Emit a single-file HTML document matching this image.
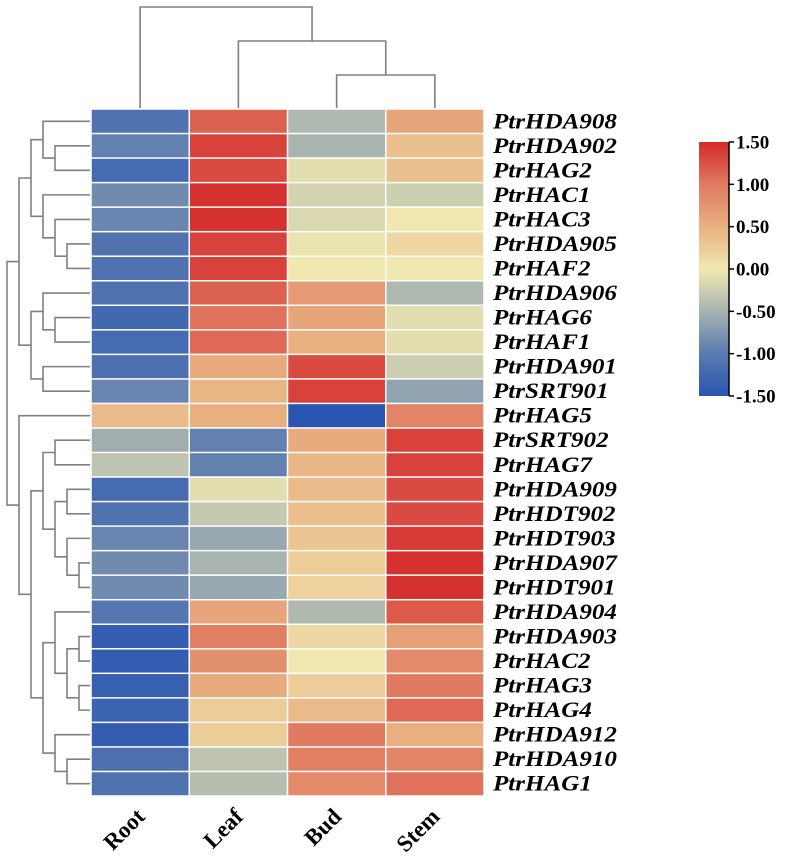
<!DOCTYPE html>
<html><head><meta charset="utf-8"><style>
html,body{margin:0;padding:0;background:#fff;}
svg{display:block;}
</style></head><body>
<svg id="chart" width="787" height="860" xmlns="http://www.w3.org/2000/svg">
<defs>
<linearGradient id="cbar" x1="0" y1="1" x2="0" y2="0">
<stop offset="0" stop-color="#2a55b0"/>
<stop offset="0.1667" stop-color="#5a7ab0"/>
<stop offset="0.3333" stop-color="#a8b4b0"/>
<stop offset="0.5" stop-color="#f0e8b0"/>
<stop offset="0.6667" stop-color="#e8b080"/>
<stop offset="0.8333" stop-color="#e07a60"/>
<stop offset="1" stop-color="#d42a2a"/>
</linearGradient>
</defs>
<g id="cells"></g>
<g id="rowdend"></g>
<g id="coldend"></g>
<g id="rowlabels"></g>
<g id="collabels"></g>
<g id="legend">
<rect x="699" y="142" width="30" height="254" fill="url(#cbar)"/>
</g>
</svg>
<script>
const genes = ["PtrHDA908","PtrHDA902","PtrHAG2","PtrHAC1","PtrHAC3","PtrHDA905","PtrHAF2","PtrHDA906","PtrHAG6","PtrHAF1","PtrHDA901","PtrSRT901","PtrHAG5","PtrSRT902","PtrHAG7","PtrHDA909","PtrHDT902","PtrHDT903","PtrHDA907","PtrHDT901","PtrHDA904","PtrHDA903","PtrHAC2","PtrHAG3","PtrHAG4","PtrHDA912","PtrHDA910","PtrHAG1"];
const tissues = ["Root","Leaf","Bud","Stem"];
const rootVals = [-1.1,-0.95,-1.2,-0.85,-0.9,-1.1,-1.1,-1.1,-1.25,-1.2,-1.15,-0.9,0.4,-0.55,-0.35,-1.2,-1.1,-0.9,-0.85,-0.85,-1.05,-1.4,-1.4,-1.35,-1.3,-1.4,-1.15,-1.1];
const leafVals = [1.15,1.35,1.3,1.45,1.45,1.35,1.35,1.15,1.05,1.1,0.55,0.45,0.5,-0.95,-0.95,-0.1,-0.3,-0.6,-0.5,-0.6,0.6,0.95,0.8,0.55,0.25,0.25,-0.35,-0.4];
const budVals = [-0.45,-0.5,-0.1,-0.2,-0.15,-0.05,0.0,0.7,0.6,0.5,1.3,1.35,-1.5,0.55,0.45,0.4,0.35,0.3,0.25,0.2,-0.45,0.15,0.0,0.25,0.4,1.0,0.95,0.85];
const stemVals = [0.6,0.35,0.35,-0.25,0.0,0.15,0.0,-0.45,-0.1,-0.1,-0.25,-0.65,0.9,1.35,1.35,1.3,1.3,1.4,1.45,1.45,1.2,0.65,0.85,1.0,1.1,0.5,0.9,1.05];
const legendTicks = [1.5,1.0,0.5,0.0,-0.5,-1.0,-1.5];
const legendLabels = ["1.50","1.00","0.50","0.00","-0.50","-1.00","-1.50"];

const NS="http://www.w3.org/2000/svg";
const X0=91,X1=484,Y0=109,Y1=796;
const cw=(X1-X0)/tissues.length, rh=(Y1-Y0)/genes.length;
const colX=i=>X0+i*cw, rowY=i=>Y0+i*rh;
const stops=[[-1.5,[42,85,176]],[-1,[90,122,176]],[-0.5,[168,180,176]],[0,[240,232,176]],[0.5,[232,176,128]],[1,[224,122,96]],[1.5,[212,42,42]]];
function color(v){v=Math.max(-1.5,Math.min(1.5,v));for(let i=0;i<stops.length-1;i++){const a=stops[i],b=stops[i+1];if(v<=b[0]){const t=(v-a[0])/(b[0]-a[0]);const c=a[1].map((x,k)=>Math.round(x+(b[1][k]-x)*t));return `rgb(${c.join(',')})`;}}return 'rgb(212,42,42)';}
function el(tag,attrs,parent){const e=document.createElementNS(NS,tag);for(const k in attrs)e.setAttribute(k,attrs[k]);parent.appendChild(e);return e;}

const cells=document.getElementById('cells');
const series=[rootVals,leafVals,budVals,stemVals];
series.forEach((vals,c)=>{vals.forEach((v,r)=>{
 const e=el('rect',{x:colX(c)+0.75,y:rowY(r)+0.75,width:cw-1.5,height:rh-1.5,fill:color(v)},cells);
 
 
});});

const rl=document.getElementById('rowlabels');
genes.forEach((g,r)=>{const y=rowY(r)+rh/2+7;const t=el('text',{x:0,y:0,transform:`translate(493 ${y}) scale(1.14 1)`,'font-family':'"Liberation Serif",serif','font-size':'22','font-weight':'bold','font-style':'italic',fill:'#000'},rl);t.textContent=g;
 
 });

const cl=document.getElementById('collabels');
tissues.forEach((s,c)=>{const cx=colX(c)+cw/2+6,cy=818;const t=el('text',{x:cx,y:cy,'text-anchor':'end',transform:`rotate(-45 ${cx} ${cy})`,'font-family':'"Liberation Serif",serif','font-size':'23','font-weight':'bold',fill:'#000'},cl);t.textContent=s;
 
 });

const rd=document.getElementById('rowdend');
const xs=[7,19,31,43,55,67,79];
function L(i){return {i:i};}
function N(a,b,l){return {a:a,b:b,l:l};}
const rowTree=N(
 N(N(N(L(0),N(L(1),L(2),4),3),N(L(3),N(L(4),N(L(5),L(6),5),4),3),2),
   N(N(L(7),N(L(8),L(9),4),3),N(L(10),L(11),3),2),1),
 N(L(12),
   N(N(N(L(13),L(14),4),N(N(L(15),L(16),5),N(L(17),N(L(18),L(19),6),5),4),3),
     N(N(L(20),N(N(L(21),L(22),6),N(L(23),L(24),6),5),4),N(L(25),N(L(26),L(27),5),4),3),2),1),0);
function drawRow(n){if(n.i!==undefined)return {y:rowY(n.i)+rh/2,x:90};
 const a=drawRow(n.a),b=drawRow(n.b),x=xs[n.l];
 const p=el('path',{d:`M${a.x},${a.y}H${x}V${b.y}H${b.x}`,fill:'none',stroke:'#808080','stroke-width':1.6},rd);
 
 
 return {x:x,y:(a.y+b.y)/2};}
drawRow(rowTree);

const cd=document.getElementById('coldend');
const ys=[7,41,75];
const colTree=N(L(0),N(L(1),N(L(2),L(3),2),1),0);
function drawCol(n){if(n.i!==undefined)return {x:colX(n.i)+cw/2,y:108};
 const a=drawCol(n.a),b=drawCol(n.b),y=ys[n.l];
 const p=el('path',{d:`M${a.x},${a.y}V${y}H${b.x}V${b.y}`,fill:'none',stroke:'#808080','stroke-width':1.6},cd);
 
 
 return {x:(a.x+b.x)/2,y:y};}
drawCol(colTree);

const lg=document.getElementById('legend');
const CB0=142,CB1=396,cbY=v=>CB1-(v+1.5)/3*(CB1-CB0);
el('line',{x1:729,y1:CB0,x2:729,y2:CB1,stroke:'#000','stroke-width':1.5},lg);
legendTicks.forEach((v,i)=>{const y=cbY(v);
 el('line',{x1:729,y1:y,x2:734,y2:y,stroke:'#000','stroke-width':1.5},lg);
 const t=el('text',{x:736,y:y+6.5,'font-family':'"Liberation Serif",serif','font-size':'19','font-weight':'bold',fill:'#000'},lg);t.textContent=legendLabels[i];
 
 });
</script>
</body></html>
